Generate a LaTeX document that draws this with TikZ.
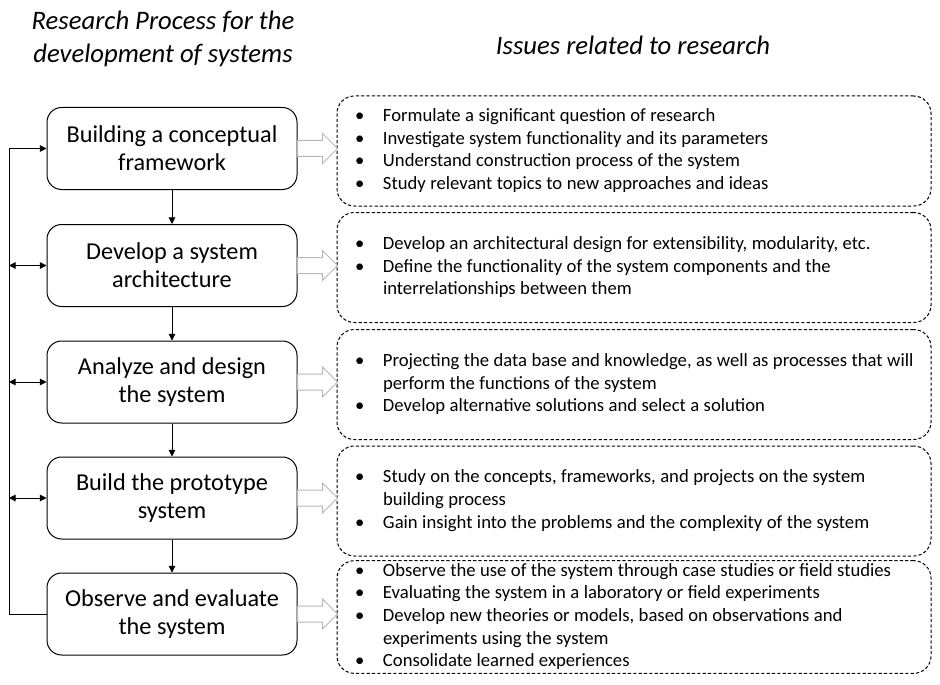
\documentclass[tikz,border=0pt]{standalone}
\usepackage{fontspec}
\setmainfont{Carlito}
\usetikzlibrary{arrows.meta,calc}

% bullet list with hanging lines, laid out as a two-column tabular
\newcommand{\issuelist}[1]{%
  \fontsize{14}{16.9}\selectfont
  \begin{tabular}{@{}p{21pt}@{}l@{}}#1\end{tabular}}
\newcommand{\bul}{\textbullet}

\begin{document}
\begin{tikzpicture}[x=0.75pt,y=-0.75pt,
  stagebox/.style={draw=black, line width=0.75pt, rounded corners=11pt,
    minimum width=187.5pt, minimum height=61.5pt, align=center,
    font=\fontsize{18.2}{21}\selectfont, inner sep=0pt},
  issuebox/.style={draw=black, line width=0.75pt, dash pattern=on 2.4pt off 1.6pt,
    rounded corners=13pt, minimum width=445.5pt, minimum height=82.5pt,
    text width=418.5pt, align=left, inner xsep=13.5pt, inner ysep=0pt},
  heading/.style={font=\fontsize{20}{24.75}\selectfont\itshape, align=center},
  flow/.style={line width=0.75pt, -{Triangle[length=5pt,width=5pt]}},
  both/.style={line width=0.75pt, {Triangle[length=5pt,width=5pt]}-{Triangle[length=5pt,width=5pt]}},
  hollow/.style={draw=black!28, line width=0.75pt, fill=white}
]
\useasboundingbox (0,0) rectangle (940,685);

% headings
\node[heading] (h1) at (163,38.5) {Research Process for the\\development of systems};
\node[heading] (h2) at (633,45) {Issues related to research};

% process stages
\node[stagebox] (L1) at (172,148.5) {Building a conceptual\\framework};
\node[stagebox] (L2) at (172,265.5) {Develop a system\\architecture};
\node[stagebox] (L3) at (172,382)   {Analyze and design\\the system};
\node[stagebox] (L4) at (172,498)   {Build the prototype\\system};
\node[stagebox] (L5) at (172,614)   {Observe and evaluate\\the system};

% issue boxes
\node[issuebox] (R1) at (634,151) {\issuelist{%
  \bul & Formulate a significant question of research\\
  \bul & Investigate system functionality and its parameters\\
  \bul & Understand construction process of the system\\
  \bul & Study relevant topics to new approaches and ideas}};
\node[issuebox] (R2) at (634,267.5) {\issuelist{%
  \bul & Develop an architectural design for extensibility, modularity, etc.\\
  \bul & Define the functionality of the system components and the\\
       & interrelationships between them}};
\node[issuebox] (R3) at (634,384.5) {\issuelist{%
  \bul & Projecting the data base and knowledge, as well as processes that will\\
       & perform the functions of the system\\
  \bul & Develop alternative solutions and select a solution}};
\node[issuebox] (R4) at (634,501) {\issuelist{%
  \bul & Study on the concepts, frameworks, and projects on the system\\
       & building process\\
  \bul & Gain insight into the problems and the complexity of the system}};
\node[issuebox] (R5) at (634,617) {\issuelist{%
  \bul & Observe the use of the system through case studies or field studies\\
  \bul & Evaluating the system in a laboratory or field experiments\\
  \bul & Develop new theories or models, based on observations and\\
       & experiments using the system\\
  \bul & Consolidate learned experiences}};

% downward flow between stages
\draw[flow] (L1.south) -- (L2.north);
\draw[flow] (L2.south) -- (L3.north);
\draw[flow] (L3.south) -- (L4.north);
\draw[flow] (L4.south) -- (L5.north);

% feedback loop on the left
\coordinate (fb) at (9,0);
\draw[flow] (L5.west) -- (L5.west -| fb) -- (L1.west -| fb) -- (L1.west);
\draw[both] (L2.west -| fb) -- (L2.west);
\draw[both] (L3.west -| fb) -- (L3.west);
\draw[both] (L4.west -| fb) -- (L4.west);

% hollow arrows from each stage to its issues
\foreach \k in {1,...,5}{
  \draw[hollow] (L\k.east) ++(0,-8) -- ++(25,0) -- ++(0,-7) -- ++(15,15)
    -- ++(-15,15) -- ++(0,-7) -- ++(-25,0) -- cycle;
}
\end{tikzpicture}
\end{document}
